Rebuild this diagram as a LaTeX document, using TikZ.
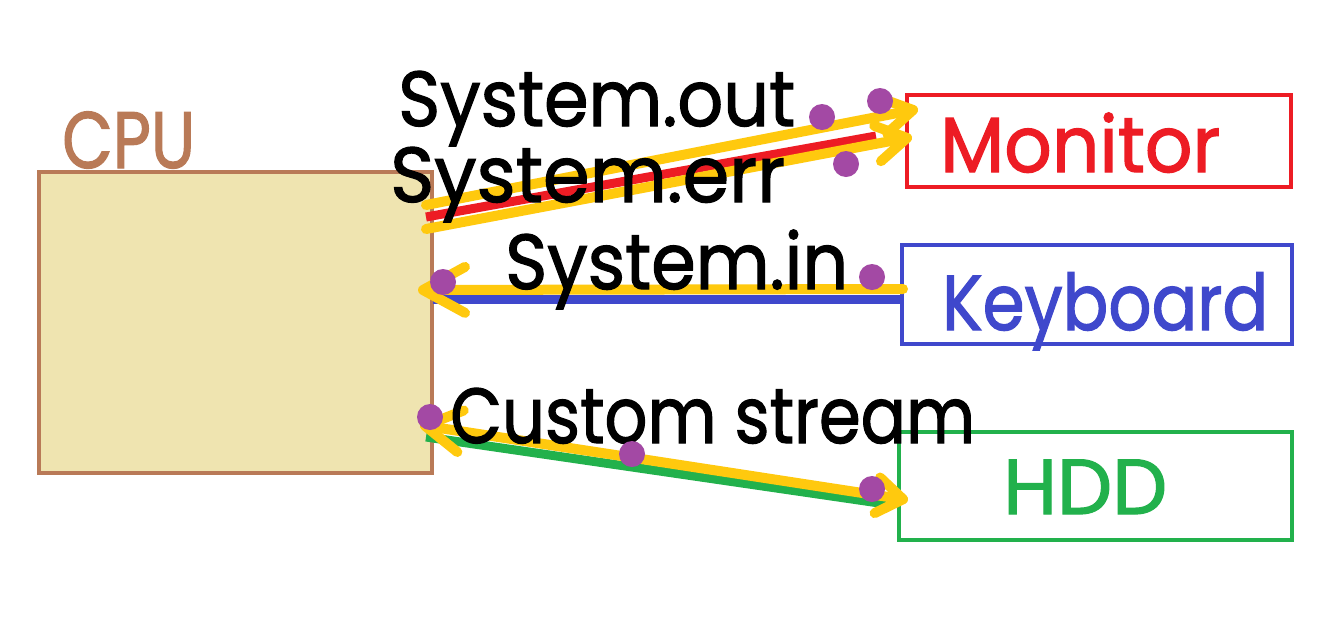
\documentclass[tikz,border=0pt]{standalone}
\usepackage{fontspec}
\usepackage{graphicx}
\setmainfont{Poppins}[FakeBold=1.6]
\usetikzlibrary{arrows.meta}
\definecolor{cyel}{HTML}{FFC90E}
\definecolor{cred}{HTML}{ED1C24}
\definecolor{cblue}{HTML}{3F48CC}
\definecolor{cgreen}{HTML}{22B14C}
\definecolor{cpurp}{HTML}{A349A4}
\definecolor{cbrown}{HTML}{B97A57}
\definecolor{cfill}{HTML}{EFE4B0}
\newcommand{\fitw}[2]{\resizebox{#1pt}{\height}{#2}}
\tikzset{
  box/.style={draw=#1, line width=4pt, minimum width=0pt, inner sep=0pt},
  lbl/.style={anchor=base west, inner sep=0pt, font=\fontsize{78}{82}\selectfont},
  ylw/.style={draw=cyel, line width=10pt, line cap=round},
  thinline/.style={draw=#1, line width=9pt},
  dot/.style={circle, fill=cpurp, minimum size=26pt, inner sep=0pt}
}
\begin{document}
\begin{tikzpicture}[x=1pt,y=-1pt]
\useasboundingbox[fill=white] (0,0) rectangle (1325,622);
% boxes
\node[box=cbrown, fill=cfill, minimum width=393pt, minimum height=301pt, anchor=north west] (cpu) at (37,170) {};
\node[box=cred, minimum width=384pt, minimum height=92pt, anchor=north west] (mon) at (905,93) {};
\node[box=cblue, minimum width=390pt, minimum height=99pt, anchor=north west] (kbd) at (900,243) {};
\node[box=cgreen, minimum width=393pt, minimum height=108pt, anchor=north west] (hdd) at (897,430) {};
% box labels
\node[lbl, text=cbrown, font=\fontsize{80}{84}\selectfont] (cpul) at (62,168) {\fitw{133}{CPU}};
\node[lbl, text=cred] (monl) at (940,172) {\fitw{280}{Monitor}};
\node[lbl, text=cblue] (kbdl) at (942,330) {\fitw{326}{Keyboard}};
\node[lbl, text=cgreen] (hddl) at (1003,514) {\fitw{164}{HDD}};
% coordinates for connectors
\coordinate (o1s) at (426,205); \coordinate (o1e) at (918,109);
\coordinate (rs) at (426,217);  \coordinate (re) at (876,136);
\coordinate (o2s) at (426,229); \coordinate (o2e) at (912,137);
\coordinate (iys) at (903,289); \coordinate (iye) at (418,290);
\coordinate (ibs) at (433,299); \coordinate (ibe) at (904,299);
\coordinate (cgs) at (426,437); \coordinate (cge) at (886,504);
\coordinate (cys) at (420,425); \coordinate (cye) at (908,500);
% connectors
\draw[ylw, -{Straight Barb[length=30pt,width=36pt,line width=10pt,round]}] (o1s) -- (o1e);
\draw[thinline=cred] (rs) -- (re);
\draw[ylw, -{Straight Barb[length=30pt,width=36pt,line width=10pt,round]}] (o2s) -- (o2e);
\draw[thinline=cblue] (ibs) -- (ibe);
\draw[ylw, -{Straight Barb[length=42pt,width=46pt,line width=10pt,round]}] (iys) -- (iye);
\draw[thinline=cgreen] (cgs) -- (cge);
\draw[ylw, {Straight Barb[length=36pt,width=42pt,line width=10pt,round]}-{Straight Barb[length=26pt,width=36pt,line width=10pt,round]}] (cys) -- (cye);
% stream labels
\node[lbl] (sout) at (398,126) {\fitw{397}{System.out}};
\node[lbl] (serr) at (390,202) {\fitw{395}{System.err}};
\node[lbl] (sin) at (505,289) {\fitw{343}{System.in}};
\node[lbl] (cst) at (450,443) {\fitw{525}{Custom stream}};
% dots
\node[dot] (d1) at (822,117) {};
\node[dot] (d2) at (880,101) {};
\node[dot] (d3) at (846,164) {};
\node[dot] (d4) at (443,282) {};
\node[dot] (d5) at (872,277) {};
\node[dot] (d6) at (430,417) {};
\node[dot] (d7) at (632,454) {};
\node[dot] (d8) at (872,489) {};
\end{tikzpicture}
\end{document}
